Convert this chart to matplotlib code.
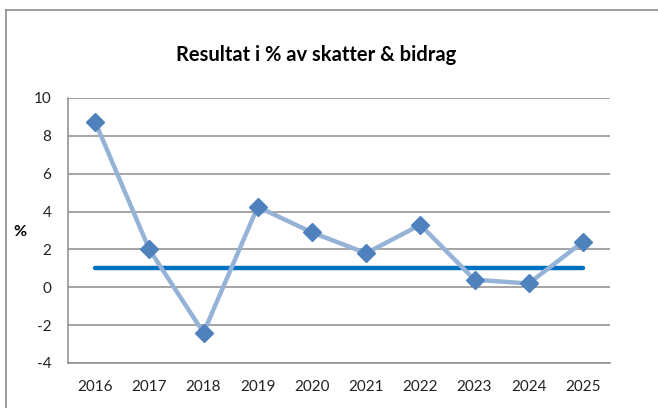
import matplotlib.pyplot as plt
from matplotlib.lines import Line2D

years = ["2016", "2017", "2018", "2019", "2020", "2021", "2022", "2023", "2024", "2025"]
resultat = [8.75, 2.0, -2.4, 4.25, 2.9, 1.8, 3.3, 0.4, 0.2, 2.4]
target = [1.0] * len(years)
yticks = [-4, -2, 0, 2, 4, 6, 8, 10]

plt.rcParams['font.family'] = ['Lato', 'DejaVu Sans']

W, H = 658, 408
fig = plt.figure(figsize=(W / 100, H / 100), dpi=100)
ax = fig.add_axes([68 / W, 1 - 363 / H, (610 - 68) / W, (363 - 98) / H])

x = list(range(len(years)))
ax.plot(x, target, color='#0070C0', lw=3.2, solid_capstyle='round', zorder=3)
ax.plot(x, resultat, color='#95B3D7', lw=3.2, zorder=4,
        marker='D', markersize=9.5, markerfacecolor='#4F81BD', markeredgecolor='#4F81BD')

ax.set_xlim(-0.5, len(years) - 0.5)
ax.set_ylim(-4, 10)
ax.set_yticks(yticks)
ax.set_yticklabels([str(t) for t in yticks])
ax.set_xticks(x)
ax.set_xticklabels(years)
ax.tick_params(length=0, labelsize=11, colors='#222222')
ax.tick_params(axis='x', pad=12)
ax.tick_params(axis='y', pad=12)
ax.grid(axis='y', color='#8C8C8C', lw=1.1)
ax.set_axisbelow(True)
for s in ['top', 'right']:
    ax.spines[s].set_visible(False)
for s in ['left', 'bottom']:
    ax.spines[s].set_color('#8C8C8C')
    ax.spines[s].set_linewidth(1.1)

fig.text(20 / W, 1 - 232 / H, "%", fontsize=11.5, fontweight='bold', ha='center', va='center')
fig.text(316 / W, 1 - 55 / H, "Resultat i % av skatter & bidrag", fontsize=14.5,
         fontweight='bold', ha='center', va='center')

# outer chart frame (cropped on right and bottom)
fig.add_artist(Line2D([5.5 / W, 5.5 / W], [0, 1 - 10 / H], color='#8C8C8C', lw=1.2))
fig.add_artist(Line2D([5.5 / W, 1], [1 - 10 / H, 1 - 10 / H], color='#8C8C8C', lw=1.2))

fig.savefig('out.png', dpi=100, facecolor='white')
